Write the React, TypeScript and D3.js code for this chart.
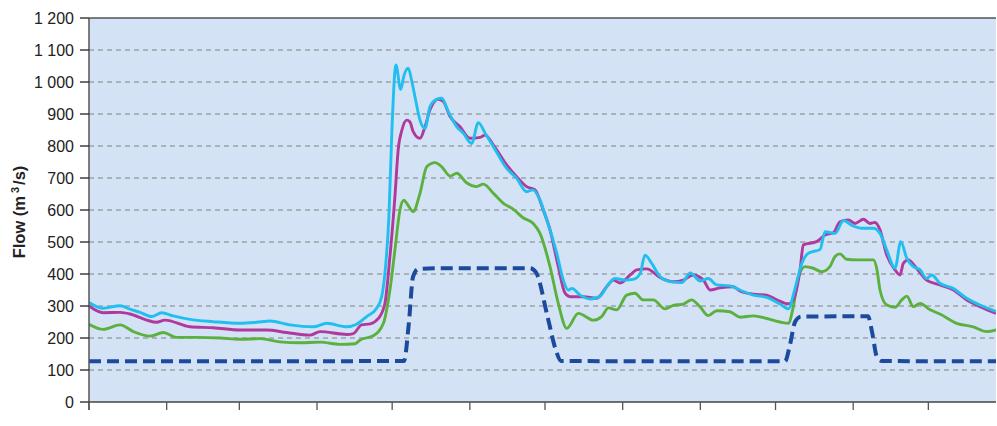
import * as d3 from "d3";

type FlowPoint = [number, number];

// day of year (leap year) -> flow in m3/s
const monthStartDays = [0, 31, 60, 91, 121, 152, 182, 213, 244, 274, 305, 335];
const yTickValues = [0, 100, 200, 300, 400, 500, 600, 700, 800, 900, 1000, 1100, 1200];
const gridValues = [100, 200, 300, 400, 500, 600, 700, 800, 900, 1000, 1100];

const cyanFlow: FlowPoint[] = [
  [0, 311], [5.7, 293], [12.4, 301], [16.4, 290], [20.4, 280], [25, 267], [29, 279], [33.6, 269],
  [40.3, 258], [49.6, 251], [60.3, 246], [66.9, 249], [72.3, 253], [80.2, 241], [89.5, 235],
  [94.9, 246], [102.9, 235], [106.8, 243], [110.8, 267], [114.8, 293], [116.8, 329], [118.1, 402],
  [119.7, 580], [120.9, 850], [122.5, 1053], [124.4, 977], [125.7, 1020], [127.4, 1043], [128.9, 1000],
  [130.1, 954], [132.1, 881], [134.1, 855], [136.1, 923], [138.5, 945], [140.8, 949], [143.4, 907],
  [146.8, 860], [149.4, 840], [152.7, 808], [155.4, 873], [158.1, 840], [161.4, 798], [166.7, 730],
  [170.7, 699], [174.7, 657], [177.1, 663], [180, 631], [182.7, 569], [184, 538], [186.7, 465],
  [189.3, 381], [191.3, 350], [192.7, 355], [196, 334], [200, 322], [203.9, 330], [206.6, 360],
  [209.9, 386], [213.9, 381], [217.2, 383], [220, 402], [221.9, 459], [224.6, 433], [227.9, 392],
  [231.9, 376], [236.6, 373], [240, 403], [244, 378], [247.2, 386], [250.5, 366], [255.8, 363],
  [259.8, 350], [265.1, 334], [270.5, 327], [275.8, 306], [279.1, 291], [281.8, 355], [284.5, 433],
  [287.1, 465], [291.8, 477], [293.8, 532], [297.8, 527], [301.1, 567], [305, 550], [308.4, 543],
  [313, 543], [315.7, 527], [318.4, 475], [321.7, 418], [324, 501], [326.4, 449], [329, 423],
  [331.7, 413], [334.3, 386], [336.3, 397], [339.6, 371], [345, 355], [350.3, 324], [355.6, 303],
  [362, 283],
];

const magentaFlow: FlowPoint[] = [
  [0, 300], [5.7, 279], [12.4, 280], [16.4, 275], [23, 256], [27, 249], [30.3, 256], [40.3, 235],
  [49.6, 232], [60.3, 225], [70.9, 225], [78.9, 217], [88.2, 209], [92.2, 220], [102.9, 211],
  [105.5, 214], [108.8, 241], [112.2, 244], [115.5, 261], [118.1, 308], [120.1, 454], [122.1, 642],
  [123.4, 788], [124.9, 850], [126.8, 881], [128.1, 875], [129.4, 845], [132.1, 824], [134.1, 860],
  [136.1, 913], [139.4, 946], [141.4, 939], [144.1, 892], [148.1, 860], [152.1, 824], [156.1, 827],
  [158.1, 834], [161.4, 803], [166.7, 741], [170.7, 704], [174.7, 673], [178, 663], [181.3, 600],
  [184, 538], [187.3, 423], [190, 340], [192, 329], [197.3, 329], [202.6, 324], [206.6, 360],
  [209.3, 381], [212, 372], [216, 397], [218.6, 413], [222.6, 416], [227.9, 389], [233.2, 376],
  [237.2, 381], [241.2, 397], [245.2, 381], [247.9, 350], [251.9, 357], [257.2, 360], [259.8, 347],
  [265.1, 337], [270.5, 334], [274.5, 319], [279.1, 307], [281.1, 319], [283.8, 413], [285.1, 491],
  [290.4, 501], [293.8, 522], [297.1, 529], [299.7, 563], [303.1, 569], [305.7, 558], [309.1, 571],
  [311.7, 558], [313.7, 561], [315.7, 538], [318.4, 459], [321.7, 413], [323.7, 397], [325, 433],
  [327, 444], [330.3, 418], [334.3, 381], [339.6, 366], [345, 350], [350.3, 319], [355.6, 298],
  [362, 277],
];

const greenFlow: FlowPoint[] = [
  [0, 243], [5.7, 227], [12.4, 241], [17.7, 220], [24.3, 206], [29.7, 217], [35, 202], [43, 202],
  [52.3, 200], [60.3, 196], [68.3, 198], [76.2, 188], [84.2, 185], [92.2, 187], [100.2, 180],
  [106.2, 182], [108.2, 194], [113.5, 207], [117.5, 246], [120.1, 350], [122.1, 475], [124.1, 600],
  [125.7, 631], [126.8, 621], [129.4, 595], [132.1, 652], [134.8, 735], [138.1, 748], [140.8, 735],
  [144.1, 706], [146.8, 715], [150.7, 685], [154.7, 673], [157.4, 681], [161.4, 652], [165.4, 621],
  [169.4, 602], [173.4, 575], [177.3, 558], [180, 527], [184, 423], [187.3, 308], [190.7, 230],
  [195.3, 277], [201.3, 256], [204.6, 267], [207.3, 294], [210.6, 288], [214.6, 334], [217.9, 340],
  [221.2, 319], [225.2, 319], [229.9, 291], [233.2, 302], [237.2, 306], [240.5, 319], [243.8, 298],
  [247.2, 270], [250.5, 285], [255.8, 282], [259.8, 265], [265.1, 269], [270.5, 261], [275.8, 250],
  [279.1, 246], [281.1, 298], [283.1, 390], [285.8, 423], [289.1, 418], [292.4, 407], [295.7, 423],
  [297.7, 454], [299.7, 463], [302.4, 446], [306.4, 444], [310.4, 444], [313.1, 444], [314.5, 413],
  [315.7, 350], [318.4, 303], [321.7, 296], [324.4, 319], [326.4, 331], [329, 298], [331.7, 308],
  [335.7, 288], [339.6, 275], [346.3, 246], [352.9, 235], [358.3, 220], [362, 225],
];

const releaseFlow: FlowPoint[] = [
  [0, 127], [125.7, 128], [127.7, 250], [129.3, 390], [131.3, 415], [140, 418], [163.9, 418],
  [176, 418], [178.4, 405], [183.2, 260], [186.4, 160], [188.4, 128], [277.8, 127], [279.8, 180],
  [281.8, 250], [284.2, 267], [310.9, 268], [312.5, 220], [314.5, 140], [316.5, 128], [362, 127],
];

const WIDTH = 997;
const HEIGHT = 426;
const PLOT_LEFT = 89;
const PLOT_RIGHT = 996;
const PLOT_TOP = 18;
const PLOT_BOTTOM = 402;

const labelFormat = d3.formatLocale({ decimal: ".", thousands: " ", grouping: [3], currency: ["", ""] }).format(",");

export default function App() {
  const xScale = d3.scaleLinear().domain([0, 362]).range([PLOT_LEFT, PLOT_RIGHT]);
  const yScale = d3.scaleLinear().domain([0, 1200]).range([PLOT_BOTTOM, PLOT_TOP]);
  const flowLine = d3
    .line<FlowPoint>()
    .x((point) => xScale(point[0]))
    .y((point) => yScale(point[1]))
    .curve(d3.curveMonotoneX);

  const series = [
    { key: "release", points: releaseFlow, color: "#1c4a9c", width: 4, dash: "12 6" },
    { key: "green", points: greenFlow, color: "#5cb03e", width: 2.9, dash: undefined },
    { key: "magenta", points: magentaFlow, color: "#b0399c", width: 2.9, dash: undefined },
    { key: "cyan", points: cyanFlow, color: "#21bff0", width: 2.9, dash: undefined },
  ];

  return (
    <div style={{ position: "fixed", left: 0, top: 0, background: "#ffffff" }}>
      <svg width={WIDTH} height={HEIGHT} style={{ display: "block", fontFamily: "Liberation Sans, Arial, sans-serif" }}>
        <defs>
          <clipPath id="plot-clip">
            <rect x={PLOT_LEFT} y={PLOT_TOP} width={PLOT_RIGHT - PLOT_LEFT} height={PLOT_BOTTOM - PLOT_TOP} />
          </clipPath>
        </defs>
        <rect x={PLOT_LEFT} y={PLOT_TOP} width={PLOT_RIGHT - PLOT_LEFT} height={PLOT_BOTTOM - PLOT_TOP} fill="#d3e3f5" />

        {gridValues.map((value) => (
          <line
            key={value}
            x1={PLOT_LEFT}
            x2={PLOT_RIGHT}
            y1={yScale(value)}
            y2={yScale(value)}
            stroke="#808080"
            strokeWidth={1}
            strokeDasharray="5 4"
          />
        ))}

        <g clipPath="url(#plot-clip)">
          {series.map((item) => (
            <path
              key={item.key}
              d={flowLine(item.points) ?? ""}
              fill="none"
              stroke={item.color}
              strokeWidth={item.width}
              strokeDasharray={item.dash}
              strokeLinejoin="round"
            />
          ))}
        </g>

        <line x1={PLOT_LEFT} x2={PLOT_RIGHT} y1={PLOT_TOP} y2={PLOT_TOP} stroke="#555555" strokeWidth={1.5} />
        <line x1={PLOT_LEFT} x2={PLOT_RIGHT} y1={PLOT_BOTTOM} y2={PLOT_BOTTOM} stroke="#444444" strokeWidth={1.5} />
        <line x1={PLOT_LEFT} x2={PLOT_LEFT} y1={PLOT_TOP} y2={PLOT_BOTTOM + 8} stroke="#555555" strokeWidth={1.5} />

        {yTickValues.map((value) => (
          <g key={value} transform={`translate(0,${yScale(value)})`}>
            <line x1={PLOT_LEFT - 9} x2={PLOT_LEFT} stroke="#222222" strokeWidth={1.3} />
            <text x={PLOT_LEFT - 15} dy="0.35em" textAnchor="end" fontSize={16} fill="#222222">
              {labelFormat(value)}
            </text>
          </g>
        ))}

        {monthStartDays.map((day) => (
          <line
            key={day}
            x1={xScale(day)}
            x2={xScale(day)}
            y1={PLOT_BOTTOM}
            y2={PLOT_BOTTOM + 8}
            stroke="#555555"
            strokeWidth={1.3}
          />
        ))}

        <text
          transform={`translate(25,${(PLOT_TOP + PLOT_BOTTOM) / 2 + 2}) rotate(-90)`}
          textAnchor="middle"
          fontSize={16.5}
          fontWeight="bold"
          fill="#222222"
        >
          Flow (m
          <tspan dx={3} dy={-6} fontSize={11}>3</tspan>
          <tspan dx={2} dy={6}>/s)</tspan>
        </text>
      </svg>
    </div>
  );
}
